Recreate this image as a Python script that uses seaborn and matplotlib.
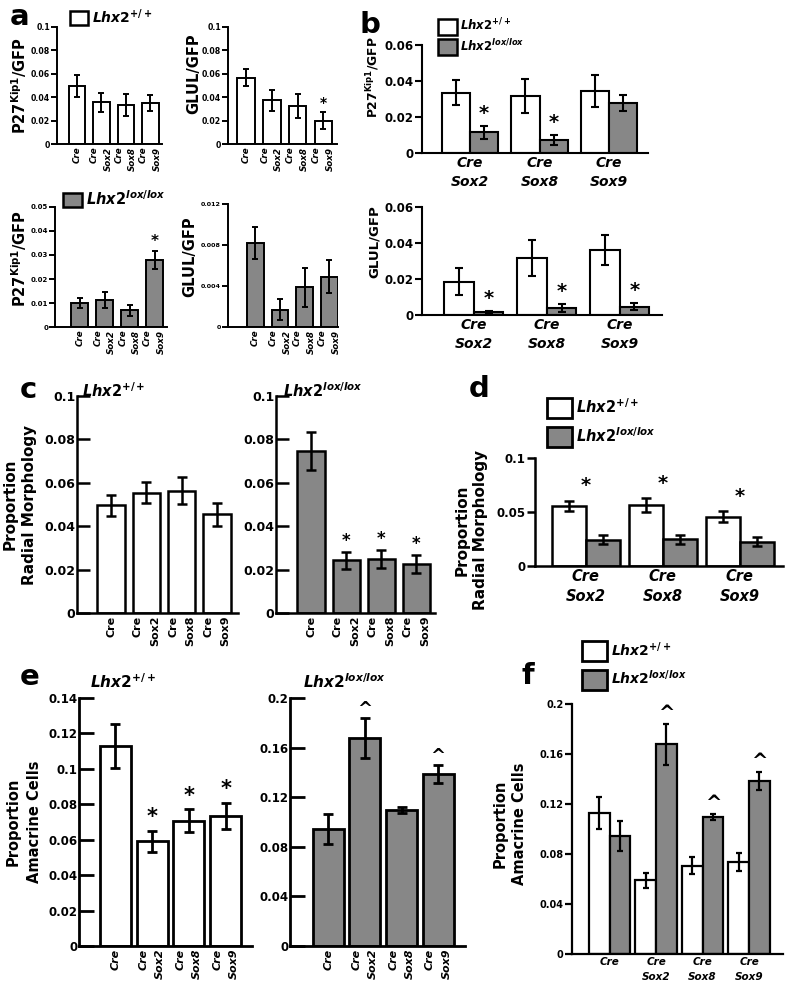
import pandas as pd
import seaborn as sns
import matplotlib.pyplot as plt
from matplotlib.patches import Patch

W, H = 787, 989

# --- data ---
conds = ['Cre', 'Cre\nSox2', 'Cre\nSox8', 'Cre\nSox9']
pairs = ['Cre\nSox2', 'Cre\nSox8', 'Cre\nSox9']

# panel a (single genotype per plot)
p27_wt = [0.0496, 0.0355, 0.0332, 0.0352]
p27_wt_err = [0.0093, 0.0085, 0.0092, 0.0067]
glul_wt = [0.0568, 0.0375, 0.0324, 0.0199]
glul_wt_err = [0.0070, 0.0090, 0.0103, 0.0073]
glul_wt_sig = ['', '', '', '*']
p27_lox = [0.0100, 0.0114, 0.0069, 0.0278]
p27_lox_err = [0.0019, 0.0033, 0.0024, 0.0037]
p27_lox_sig = ['', '', '', '*']
glul_lox = [0.0082, 0.0017, 0.0039, 0.0049]
glul_lox_err = [0.0016, 0.0010, 0.0019, 0.0016]

# panel b (wt vs lox)
b_p27_wt = [0.0336, 0.0317, 0.0345]
b_p27_wt_err = [0.0070, 0.0092, 0.0088]
b_p27_lox = [0.0114, 0.0072, 0.0277]
b_p27_lox_err = [0.0038, 0.0026, 0.0045]
b_p27_sig = ['*', '*', '']
b_glul_wt = [0.0185, 0.0314, 0.0360]
b_glul_wt_err = [0.0074, 0.0100, 0.0082]
b_glul_lox = [0.0015, 0.0037, 0.0046]
b_glul_lox_err = [0.0008, 0.0022, 0.0018]
b_glul_sig = ['*', '*', '*']

# panels c / d (radial morphology)
radial_wt = [0.0496, 0.0555, 0.0564, 0.0455]
radial_wt_err = [0.0049, 0.0047, 0.0062, 0.0052]
radial_lox = [0.0745, 0.0243, 0.0249, 0.0226]
radial_lox_err = [0.0088, 0.0040, 0.0042, 0.0042]
radial_lox_sig = ['', '*', '*', '*']
radial_pair_sig = ['*', '*', '*']

# panels e / f (amacrine cells)
amacrine_wt = [0.1129, 0.0592, 0.0707, 0.0735]
amacrine_wt_err = [0.0125, 0.0060, 0.0066, 0.0074]
amacrine_wt_sig = ['', '*', '*', '*']
amacrine_lox = [0.0945, 0.1677, 0.1098, 0.1386]
amacrine_lox_err = [0.0122, 0.0163, 0.0025, 0.0074]
amacrine_lox_sig = ['', '^', '', '^']
amacrine_pair_sig = ['', '^', '^', '^']

ticks_a_top = [0, 0.02, 0.04, 0.06, 0.08, 0.1]
ticks_a_p27_lox = [0, 0.01, 0.02, 0.03, 0.04, 0.05]
ticks_a_glul_lox = [0, 0.004, 0.008, 0.012]
ticks_b = [0, 0.02, 0.04, 0.06]
ticks_c = [0, 0.02, 0.04, 0.06, 0.08, 0.1]
ticks_d = [0, 0.05, 0.1]
ticks_e_wt = [0, 0.02, 0.04, 0.06, 0.08, 0.1, 0.12, 0.14]
ticks_e_lox = [0, 0.04, 0.08, 0.12, 0.16, 0.2]

WT = r'$\mathit{Lhx2}^{\mathit{+/+}}$'
LOX = r'$\mathit{Lhx2}^{\mathit{lox/lox}}$'
P27 = r'P27$^{\mathrm{Kip1}}$/GFP'
GRAY = '#878787'

sns.set_style('ticks')
plt.rcParams['font.family'] = ['DejaVu Sans']
plt.rcParams['font.weight'] = 'bold'
plt.rcParams['axes.labelweight'] = 'bold'
plt.rcParams['text.color'] = 'black'
plt.rcParams['axes.labelcolor'] = 'black'
plt.rcParams['axes.edgecolor'] = 'black'
plt.rcParams['xtick.color'] = 'black'
plt.rcParams['ytick.color'] = 'black'
plt.rcParams['mathtext.fontset'] = 'custom'
plt.rcParams['mathtext.rm'] = 'DejaVu Sans:bold'
plt.rcParams['mathtext.bf'] = 'DejaVu Sans:bold'
plt.rcParams['mathtext.it'] = 'DejaVu Sans:italic:bold'

fig = plt.figure(figsize=(W / 100, H / 100), dpi=100)


def px_axes(left, top, right, zero):
    ax = fig.add_axes([left / W, 1 - zero / H, (right - left) / W, (zero - top) / H])
    ax.set_facecolor('none')
    return ax


def add_errors(ax, errs_list, lw, capsize):
    centers, tops = [], []
    for cont, errs in zip(list(ax.containers), errs_list):
        xs = [p.get_x() + p.get_width() / 2 for p in cont]
        hs = [p.get_height() for p in cont]
        ax.errorbar(xs, hs, yerr=errs, fmt='none', ecolor='black',
                    elinewidth=lw, capsize=capsize, capthick=lw, zorder=3)
        centers.append(xs)
        tops.append([h + e for h, e in zip(hs, errs)])
    return centers, tops


def single(ax, values, errs, color, width, lw, capsize):
    sns.barplot(x=conds, y=values, color=color, saturation=1, width=width,
                edgecolor='black', linewidth=lw, errorbar=None, ax=ax)
    c, t = add_errors(ax, [errs], lw, capsize)
    return c[0], t[0]


def grouped(ax, cats, wt, wt_err, lox, lox_err, width, lw, capsize):
    df = pd.DataFrame({'cond': cats + cats,
                       'geno': ['wt'] * len(cats) + ['lox'] * len(cats),
                       'val': wt + lox})
    sns.barplot(data=df, x='cond', y='val', hue='geno', hue_order=['wt', 'lox'],
                palette=['white', GRAY], saturation=1, width=width,
                edgecolor='black', linewidth=lw, errorbar=None, legend=False, ax=ax)
    return add_errors(ax, [wt_err, lox_err], lw, capsize)


def marks(ax, xs, tops, signs, off, size):
    for x, t, s in zip(xs, tops, signs):
        if s:
            ax.text(x, t + off, s, ha='center', va='center', fontsize=size,
                    fontweight='bold')


def finish(ax, ymax, yticks, xlim, ysize, xsize, tdir, tlen, lw,
           rotate=False, italic=True, ls=1.7):
    sns.despine(ax=ax)
    ax.set_xlim(*xlim)
    ax.set_ylim(0, ymax)
    ax.set_yticks(yticks, labels=[f'{t:g}' for t in yticks])
    for s in ax.spines.values():
        s.set_linewidth(lw)
    ax.tick_params(axis='y', direction=tdir, length=tlen, width=lw,
                   labelsize=ysize, pad=1)
    ax.tick_params(axis='x', length=0, labelsize=xsize, pad=2,
                   labelrotation=90 if rotate else 0)
    ax.set_xlabel('')
    ax.set_ylabel('')
    for lab in ax.get_xticklabels():
        lab.set_fontstyle('italic' if italic else 'normal')
        lab.set_linespacing(ls)
        if rotate:
            lab.set_multialignment('right')
    for lab in ax.get_yticklabels():
        lab.set_fontweight('bold')


def ylabel(ax, text, right_px, yfrac, size, ls=1.2):
    pos = ax.get_position()
    ax.set_ylabel(text, fontsize=size, fontweight='bold', linespacing=ls)
    ax.yaxis.set_label_coords((right_px / W - pos.x0) / pos.width, yfrac)


def legend(labels, colors, x, y, size, hl, hh, ls, lw):
    handles = [Patch(facecolor=c, edgecolor='black', linewidth=lw) for c in colors]
    fig.legend(handles, labels, loc='upper left', bbox_to_anchor=(x / W, 1 - y / H),
               frameon=False, borderpad=0, borderaxespad=0, handlelength=hl,
               handleheight=hh, handletextpad=0.3, labelspacing=ls,
               prop={'size': size, 'weight': 'bold'})


def letter(ch, x, y):
    fig.text(x / W, 1 - y / H, ch, fontsize=21, fontweight='bold', va='baseline')


def title(text, x, y, size):
    fig.text(x / W, 1 - y / H, text, fontsize=size, fontweight='bold', va='baseline')


# ---------------- panel a ----------------
ax = px_axes(57, 27, 162, 144)
single(ax, p27_wt, p27_wt_err, 'white', 0.68, 1.4, 2.5)
finish(ax, 0.1, ticks_a_top, (-0.82, 3.48), 5.6, 6.3, 'out', 4, 1.4, rotate=True)
ylabel(ax, P27, 29, 0.5, 10.5)

ax = px_axes(228, 27, 337, 144)
xs, tops = single(ax, glul_wt, glul_wt_err, 'white', 0.68, 1.4, 2.5)
marks(ax, xs, tops, glul_wt_sig, 0.008, 10)
finish(ax, 0.1, ticks_a_top, (-0.7, 3.53), 5.6, 6.3, 'out', 4, 1.4, rotate=True)
ylabel(ax, 'GLUL/GFP', 201, 0.6, 10.5)

ax = px_axes(55, 207, 167, 327)
xs, tops = single(ax, p27_lox, p27_lox_err, GRAY, 0.68, 1.4, 2.5)
marks(ax, xs, tops, p27_lox_sig, 0.004, 11)
finish(ax, 0.05, ticks_a_p27_lox, (-1.0, 3.5), 5.0, 6.3, 'out', 4, 1.4, rotate=True)
ylabel(ax, P27, 29, 0.57, 10.5)

ax = px_axes(228, 204, 338, 327)
single(ax, glul_lox, glul_lox_err, GRAY, 0.68, 1.4, 2.5)
finish(ax, 0.012, ticks_a_glul_lox, (-1.1, 3.35), 4.6, 6.3, 'out', 4, 1.4, rotate=True)
ylabel(ax, 'GLUL/GFP', 197, 0.57, 10.5)

legend([WT], ['white'], 70, 7, 10, 1.3, 1.25, 0.4, 1.8)
legend([LOX], [GRAY], 63, 189, 10.5, 1.3, 1.15, 0.4, 1.8)
letter('a', 10, 25)

# ---------------- panel b ----------------
ax = px_axes(422, 45, 648, 153)
c, t = grouped(ax, pairs, b_p27_wt, b_p27_wt_err, b_p27_lox, b_p27_lox_err, 0.81, 1.5, 3)
marks(ax, c[1], t[1], b_p27_sig, 0.007, 14)
finish(ax, 0.06, ticks_b, (-0.69, 2.56), 8.5, 10, 'out', 5, 1.5, ls=1.5)
ylabel(ax, P27, 381, 0.7, 8.8)

ax = px_axes(422, 207, 662, 315)
c, t = grouped(ax, pairs, b_glul_wt, b_glul_wt_err, b_glul_lox, b_glul_lox_err, 0.81, 1.5, 3)
marks(ax, c[1], t[1], b_glul_sig, 0.007, 14)
finish(ax, 0.06, ticks_b, (-0.71, 2.58), 8.5, 10, 'out', 5, 1.5, ls=1.5)
ylabel(ax, 'GLUL/GFP', 381, 0.68, 9.5)

legend([WT, LOX], ['white', GRAY], 438, 17, 8.5, 1.6, 1.7, 0.25, 1.8)
letter('b', 360, 33)

# ---------------- panel c ----------------
ax = px_axes(77, 396, 238, 613)
single(ax, radial_wt, radial_wt_err, 'white', 0.78, 1.8, 3.6)
finish(ax, 0.1, ticks_c, (-0.97, 3.6), 9, 8, 'in', 9, 1.8, rotate=True, italic=False, ls=1.9)
ylabel(ax, 'Proportion\nRadial Morphology', 37, 0.5, 11, ls=1.35)

ax = px_axes(276, 396, 435, 613)
xs, tops = single(ax, radial_lox, radial_lox_err, GRAY, 0.78, 1.8, 3.6)
marks(ax, xs, tops, radial_lox_sig, 0.005, 12)
finish(ax, 0.1, ticks_c, (-1.0, 3.53), 9, 8, 'in', 9, 1.8, rotate=True, italic=False, ls=1.9)

title(WT, 82, 397, 10.5)
title(LOX, 283, 397, 10.5)
letter('c', 20, 398)

# ---------------- panel d ----------------
ax = px_axes(535, 458, 783, 566)
c, t = grouped(ax, pairs, radial_wt[1:], radial_wt_err[1:],
               radial_lox[1:], radial_lox_err[1:], 0.89, 1.8, 3.6)
centers = [(a + b) / 2 for a, b in zip(c[0], c[1])]
tops = [max(a, b) for a, b in zip(t[0], t[1])]
marks(ax, centers, tops, radial_pair_sig, 0.014, 14)
finish(ax, 0.1, ticks_d, (-0.66, 2.56), 8.5, 10.5, 'out', 6, 1.8, ls=1.45)
ylabel(ax, 'Proportion\nRadial Morphology', 488, 0.33, 11, ls=1.3)

legend([WT, LOX], ['white', GRAY], 547, 397, 10.5, 1.7, 1.7, 0.55, 2)
letter('d', 469, 397)

# ---------------- panel e ----------------
ax = px_axes(79, 698, 252, 946)
xs, tops = single(ax, amacrine_wt, amacrine_wt_err, 'white', 0.84, 2, 3.6)
marks(ax, xs, tops, amacrine_wt_sig, 0.0075, 15)
finish(ax, 0.14, ticks_e_wt, (-0.99, 3.72), 8.5, 8, 'in', 11, 2, rotate=True, ls=1.8)
ylabel(ax, 'Proportion\nAmacrine Cells', 42, 0.5, 10.5, ls=1.5)

ax = px_axes(290, 698, 465, 946)
xs, tops = single(ax, amacrine_lox, amacrine_lox_err, GRAY, 0.84, 2, 3.6)
marks(ax, xs, tops, amacrine_lox_sig, 0.007, 13)
finish(ax, 0.2, ticks_e_lox, (-1.04, 3.73), 8.5, 8, 'in', 11, 2, rotate=True, ls=1.8)

title(WT, 90, 688, 11)
title(LOX, 303, 688, 11)
letter('e', 20, 685)

# ---------------- panel f ----------------
ax = px_axes(572, 704, 783, 954)
c, t = grouped(ax, conds, amacrine_wt, amacrine_wt_err,
               amacrine_lox, amacrine_lox_err, 0.89, 1.6, 2.4)
marks(ax, c[1], t[1], amacrine_pair_sig, 0.008, 14)
finish(ax, 0.2, ticks_e_lox, (-0.81, 3.73), 7, 7.5, 'out', 5, 1.6, ls=1.6)
ylabel(ax, 'Proportion\nAmacrine Cells', 527, 0.52, 10.5, ls=1.35)

legend([WT, LOX], ['white', GRAY], 582, 640, 10, 1.8, 1.8, 0.6, 2)
letter('f', 521, 684)

fig.savefig('out.png', dpi=100, facecolor='white')
